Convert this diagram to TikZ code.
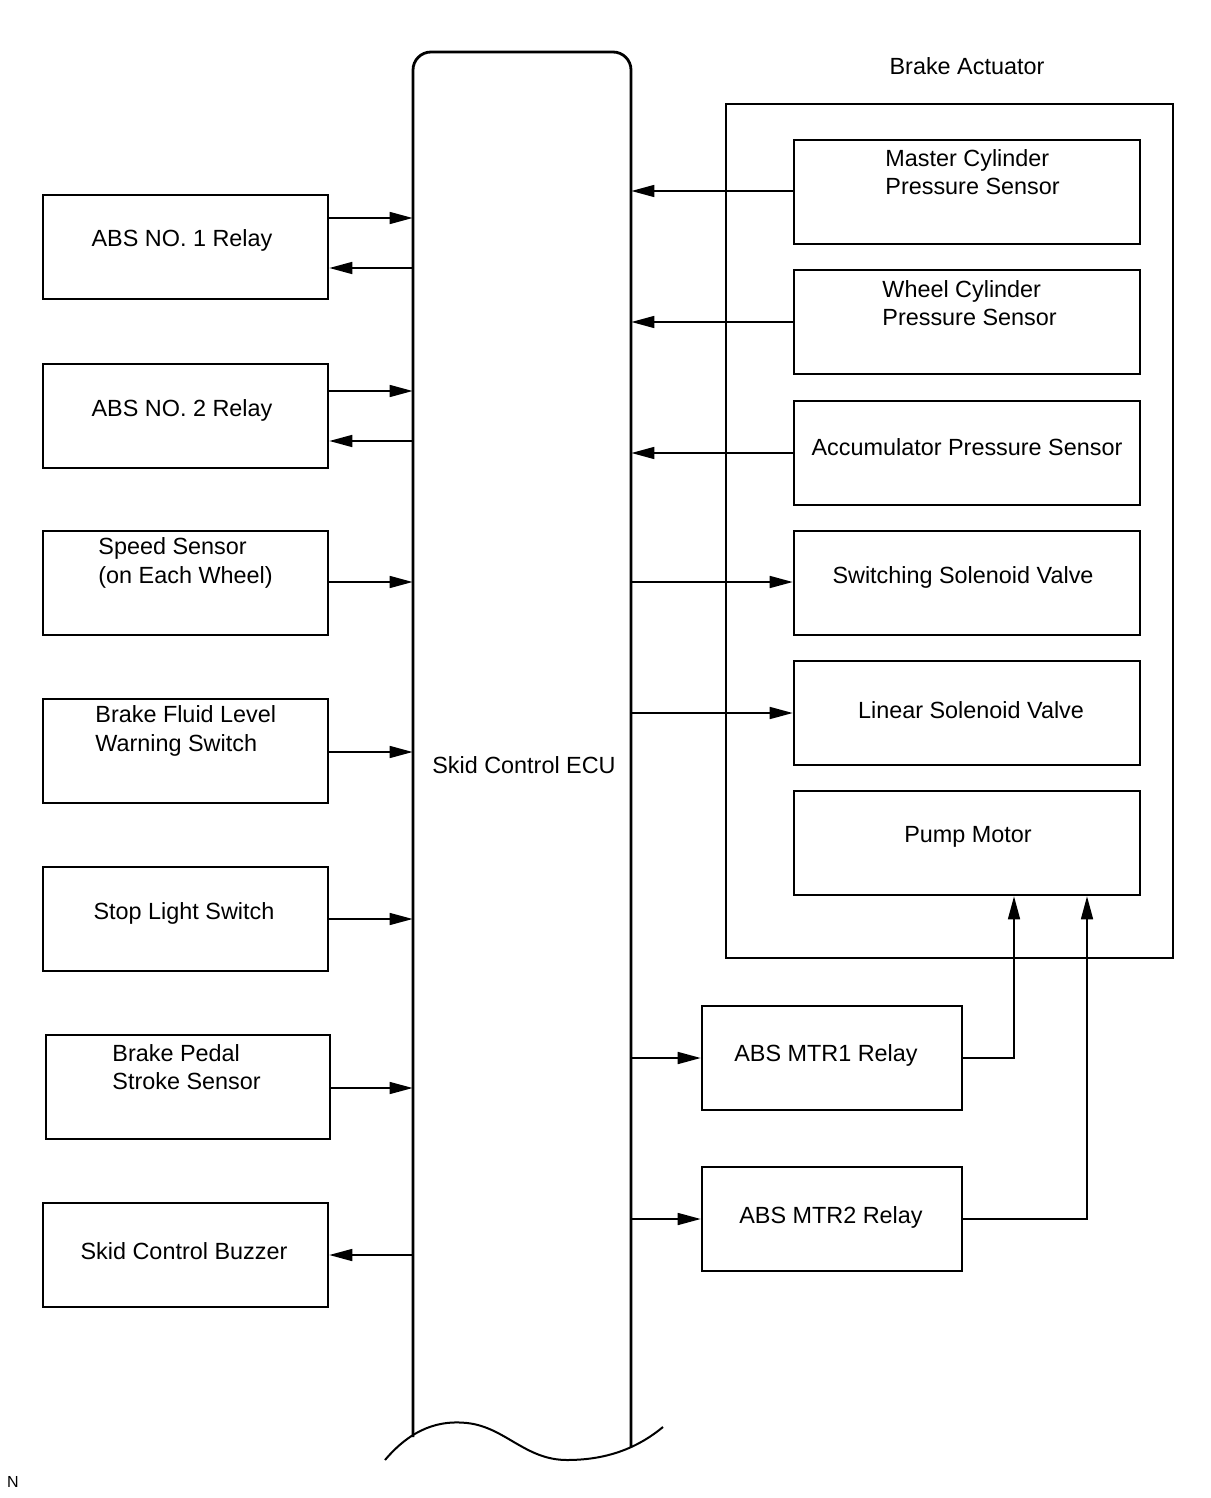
\documentclass[tikz,border=0pt]{standalone}
\usepackage{fontspec}
\setmainfont{Liberation Sans}
\usetikzlibrary{arrows.meta,fit}
\begin{document}
\begin{tikzpicture}[x=0.5pt,y=-0.5pt,
  box/.style={draw, line width=1.3pt, inner sep=0pt},
  lbl/.style={font=\fontsize{11.7}{14.3}\selectfont, inner sep=0pt, yshift=-1pt},
  arr/.style={line width=0.8pt, -{Triangle[length=11.5pt,width=6pt]}},
  wire/.style={line width=0.8pt}]
\useasboundingbox (0,0) rectangle (1210,1498);

% ECU
\node[inner sep=0pt, fit={(413,52) (631,1440)}] (ecu) {};
\draw[line width=1.4pt, rounded corners=9pt] (413,1437) -- (413,52) -- (631,52) -- (631,1447);
\draw[line width=1.0pt] (385,1460) .. controls (412,1428) and (440,1420) .. (467,1423)
  .. controls (505,1427) and (525,1460) .. (567,1460)
  .. controls (610,1460) and (640,1446) .. (663,1427);
\node[lbl] (ecut) at (524,763) {Skid Control ECU};

% left boxes
\node[box, fit={(43,195) (328,299)}] (r1) {};
\node[lbl] (r1t) at (182,238) {ABS NO. 1 Relay};
\node[box, fit={(43,364) (328,468)}] (r2) {};
\node[lbl] (r2t) at (182,408) {ABS NO. 2 Relay};
\node[box, fit={(43,531) (328,635)}] (ss) {};
\node[lbl, align=left, anchor=west] (sst) at (98,561) {Speed Sensor\\(on Each Wheel)};
\node[box, fit={(43,699) (328,803)}] (bf) {};
\node[lbl, align=left, anchor=west] (bft) at (95,729) {Brake Fluid Level\\Warning Switch};
\node[box, fit={(43,867) (328,971)}] (sl) {};
\node[lbl] (slt) at (184,911) {Stop Light Switch};
\node[box, fit={(46,1035) (330,1139)}] (bp) {};
\node[lbl, align=left, anchor=west] (bpt) at (112,1065) {Brake Pedal\\Stroke Sensor};
\node[box, fit={(43,1203) (328,1307)}] (bz) {};
\node[lbl] (bzt) at (184,1249) {Skid Control Buzzer};

% left connectors
\draw[arr] (r1.east |- 0,218) -- (ecu.west |- 0,218);
\draw[arr] (ecu.west |- 0,268) -- (r1.east |- 0,268);
\draw[arr] (r2.east |- 0,391) -- (ecu.west |- 0,391);
\draw[arr] (ecu.west |- 0,441) -- (r2.east |- 0,441);
\draw[arr] (ss.east |- 0,582) -- (ecu.west |- 0,582);
\draw[arr] (bf.east |- 0,752) -- (ecu.west |- 0,752);
\draw[arr] (sl.east |- 0,919) -- (ecu.west |- 0,919);
\draw[arr] (bp.east |- 0,1088) -- (ecu.west |- 0,1088);
\draw[arr] (ecu.west |- 0,1255) -- (bz.east |- 0,1255);

% brake actuator
\node[box, fit={(726,104) (1173,958)}] (act) {};
\node[lbl] (actt) at (967,64) {Brake Actuator};
\node[box, fit={(794,140) (1140,244)}] (mc) {};
\node[lbl, align=left, anchor=west] (mct) at (885,170) {Master Cylinder\\Pressure Sensor};
\node[box, fit={(794,270) (1140,374)}] (wc) {};
\node[lbl, align=left, anchor=west] (wct) at (882,301) {Wheel Cylinder\\Pressure Sensor};
\node[box, fit={(794,401) (1140,505)}] (ac) {};
\node[lbl] (act2) at (967,445) {Accumulator Pressure Sensor};
\node[box, fit={(794,531) (1140,635)}] (sv) {};
\node[lbl] (svt) at (963,575) {Switching Solenoid Valve};
\node[box, fit={(794,661) (1140,765)}] (lv) {};
\node[lbl] (lvt) at (971,708) {Linear Solenoid Valve};
\node[box, fit={(794,791) (1140,895)}] (pm) {};
\node[lbl] (pmt) at (968,835) {Pump Motor};

\node[box, fit={(702,1006) (962,1110)}] (m1) {};
\node[lbl] (m1t) at (826,1053) {ABS MTR1 Relay};
\node[box, fit={(702,1167) (962,1271)}] (m2) {};
\node[lbl] (m2t) at (831,1215) {ABS MTR2 Relay};

% right connectors
\draw[arr] (mc.west |- 0,191) -- (ecu.east |- 0,191);
\draw[arr] (wc.west |- 0,322) -- (ecu.east |- 0,322);
\draw[arr] (ac.west |- 0,453) -- (ecu.east |- 0,453);
\draw[arr] (ecu.east |- 0,582) -- (sv.west |- 0,582);
\draw[arr] (ecu.east |- 0,713) -- (lv.west |- 0,713);
\draw[arr] (ecu.east |- 0,1058) -- (m1.west |- 0,1058);
\draw[arr] (ecu.east |- 0,1219) -- (m2.west |- 0,1219);
\draw[arr] (m1.east |- 0,1058) -| (pm.south -| 1014,0);
\draw[arr] (m2.east |- 0,1219) -| (pm.south -| 1087,0);

\node[font=\fontsize{8}{9}\selectfont, inner sep=0pt] (n) at (13,1482) {N};
\end{tikzpicture}
\end{document}
